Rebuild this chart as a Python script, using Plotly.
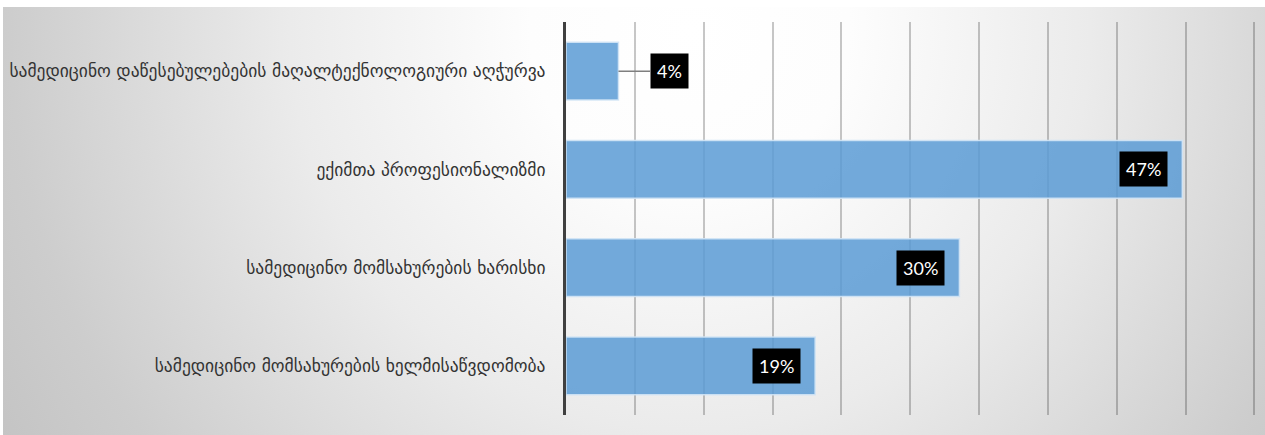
import base64
import plotly.graph_objects as go

# Survey categories (top to bottom) and their shares in percent
categories = [
    "სამედიცინო დაწესებულებების მაღალტექნოლოგიური აღჭურვა",
    "ექიმთა პროფესიონალიზმი",
    "სამედიცინო მომსახურების ხარისხი",
    "სამედიცინო მომსახურების ხელმისაწვდომობა",
]
shares = [4, 47, 30, 19]
share_labels = ["4%", "47%", "30%", "19%"]

W, H = 1265, 435
ML, MR, MT, MB = 566, 9, 22, 20
plot_w = W - ML - MR
plot_h = H - MT - MB

# Soft radial grey backdrop, bright near the top centre
bg_w, bg_h = W - 3, H - 7
svg = f"""<svg xmlns='http://www.w3.org/2000/svg' width='{bg_w}' height='{bg_h}' viewBox='0 0 {bg_w} {bg_h}' preserveAspectRatio='none'>
<defs><radialGradient id='g' gradientUnits='userSpaceOnUse' cx='687' cy='23' r='800'>
<stop offset='0' stop-color='#ffffff'/>
<stop offset='0.2' stop-color='#fdfdfd'/>
<stop offset='0.5' stop-color='#ebebeb'/>
<stop offset='0.85' stop-color='#cdcdcd'/>
<stop offset='1' stop-color='#c4c4c4'/>
</radialGradient></defs>
<rect x='0' y='0' width='{bg_w}' height='{bg_h}' fill='url(#g)'/>
</svg>"""
bg_src = "data:image/svg+xml;base64," + base64.b64encode(svg.encode()).decode()

fig = go.Figure(
    go.Bar(
        x=shares,
        y=categories,
        orientation="h",
        marker=dict(
            color="rgba(91,155,213,0.85)",
            line=dict(color="rgba(210,228,245,0.9)", width=1.5),
        ),
        hoverinfo="skip",
    )
)

# Value labels: black boxes, inside the bar end or beside short bars
for cat, val, lab in zip(categories, shares, share_labels):
    if val < 10:
        fig.add_annotation(
            x=val, y=cat, text=lab, showarrow=True, ax=51, ay=0,
            arrowhead=0, arrowcolor="#7f7f7f", arrowwidth=1.5, standoff=0,
            bgcolor="black", borderpad=6,
            font=dict(family="Lato", size=18, color="white"),
        )
    else:
        fig.add_annotation(
            x=val, y=cat, text=lab, showarrow=False, xanchor="right", xshift=-14,
            bgcolor="black", borderpad=6,
            font=dict(family="Lato", size=18, color="white"),
        )

fig.add_layout_image(
    source=bg_src, xref="paper", yref="paper",
    x=(3 - ML) / plot_w, y=1 + (MT - 7) / plot_h,
    sizex=bg_w / plot_w, sizey=bg_h / plot_h,
    xanchor="left", yanchor="top", sizing="stretch", layer="below",
)

fig.update_layout(
    width=W, height=H,
    margin=dict(l=ML, r=MR, t=MT, b=MB, pad=0),
    paper_bgcolor="white",
    plot_bgcolor="rgba(0,0,0,0)",
    bargap=0.41,
    showlegend=False,
    xaxis=dict(
        range=[0, 52.62], tick0=0, dtick=5.25, showticklabels=False,
        showgrid=True, gridcolor="rgba(0,0,0,0.22)", gridwidth=1.5,
        zeroline=False, showline=False, fixedrange=True,
    ),
    yaxis=dict(
        autorange="reversed", showgrid=False, zeroline=False,
        showline=True, linecolor="#404040", linewidth=3,
        ticks="", ticklabelstandoff=14,
        tickfont=dict(family="DejaVu Sans", size=17.5, color="#333333"),
        fixedrange=True,
    ),
)

fig.write_html("out.html")
